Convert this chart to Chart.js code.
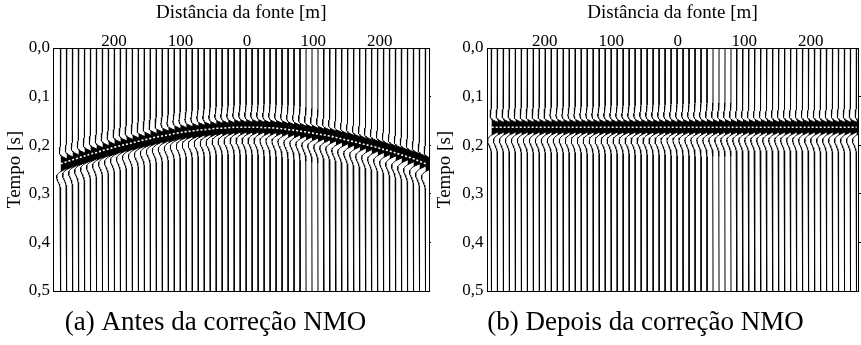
<!DOCTYPE html>
<html><head><meta charset="utf-8">
<script src="https://cdn.jsdelivr.net/npm/chart.js@4.4.1/dist/chart.umd.min.js"></script>
<style>
html,body{margin:0;padding:0;background:#fff;}
#wrap{position:relative;width:861px;height:345px;overflow:hidden;background:#fff;}
.panel{position:absolute;top:0;width:431px;height:345px;}
#pa{left:0;}
#pb{left:430px;}
</style></head><body>
<div id="wrap">
<div class="panel" id="pa"><canvas id="ca" width="431" height="345"></canvas></div>
<div class="panel" id="pb"><canvas id="cb" width="431" height="345"></canvas></div>
</div>
<script>
// ---- data ----
const offsets = [-280,-271,-262,-253,-244,-235,-226,-217,-208,-199,-190,-181,-172,-163,-154,-145,-136,-127,-118,-109,-100,-91,-82,-73,-64,-55,-46,-37,-28,-19,-10,-1,8,17,26,35,44,53,62,71,80,89,98,107,116,125,134,143,152,161,170,179,188,197,206,215,224,233,242,251,260,269];
const picksA = [0.238,0.234,0.230,0.226,0.222,0.218,0.215,0.211,0.208,0.204,0.201,0.198,0.195,0.192,0.189,0.186,0.183,0.181,0.179,0.176,0.174,0.172,0.171,0.169,0.168,0.167,0.165,0.165,0.164,0.163,0.163,0.163,0.163,0.163,0.164,0.164,0.165,0.166,0.168,0.169,0.171,0.173,0.175,0.177,0.179,0.181,0.184,0.187,0.190,0.193,0.196,0.199,0.202,0.205,0.209,0.212,0.216,0.220,0.224,0.228,0.233,0.238];
const picksB = [0.163,0.163,0.163,0.163,0.163,0.163,0.163,0.163,0.163,0.163,0.163,0.163,0.163,0.163,0.163,0.163,0.163,0.163,0.163,0.163,0.163,0.163,0.163,0.163,0.163,0.163,0.163,0.163,0.163,0.163,0.163,0.163,0.163,0.163,0.163,0.163,0.163,0.163,0.163,0.163,0.163,0.163,0.163,0.163,0.163,0.163,0.163,0.163,0.163,0.163,0.163,0.163,0.163,0.163,0.163,0.163,0.163,0.163,0.163,0.163,0.163,0.163];
// wavelet samples, 2 ms apart, from -0.050 s to +0.060 s around the event
const wavelet = [-0.005,-0.010,-0.015,-0.022,-0.030,-0.040,-0.050,-0.062,-0.075,-0.090,-0.105,-0.118,-0.125,-0.125,-0.115,-0.090,-0.050,0.006,0.165,0.335,0.505,0.665,0.803,0.910,0.977,1.000,0.977,0.910,0.803,0.665,0.505,0.335,0.165,0.006,-0.110,-0.205,-0.275,-0.320,-0.345,-0.350,-0.340,-0.318,-0.288,-0.253,-0.216,-0.180,-0.146,-0.115,-0.088,-0.066,-0.048,-0.034,-0.023,-0.015,-0.009,-0.005];
const waveletStart = -0.050;
const waveletStep = 0.002;
const lobeFirst = 16, lobeLast = 34;   // sample range of the filled positive lobe
const traceGain = 18;          // metres of deflection for unit amplitude
const timeRange = [0, 0.5];
const xTickValues = [-200, -100, 0, 100, 200];
const yTickValues = [0, 0.1, 0.2, 0.3, 0.4, 0.5];
const xTitle = 'Distância da fonte [m]';
const yTitle = 'Tempo [s]';
const captions = ['(a) Antes da correção NMO', '(b) Depois da correção NMO'];

// ---- build datasets ----
function buildDatasets(picks) {
  const ds = [];
  ds.push({
    data: offsets.map((x, i) => ({x: x, y: picks[i]})),
    borderColor: '#ffffff', borderWidth: 1.6, borderDash: [2, 2],
    fill: false, pointRadius: 0, order: 0
  });
  offsets.forEach((x0, i) => {
    const tp = picks[i];
    const line = [{x: x0, y: timeRange[0]}];
    const lobe = [];
    wavelet.forEach((a, k) => {
      const t = tp + waveletStart + k * waveletStep;
      line.push({x: x0 + traceGain * a, y: t});
      if (k >= lobeFirst && k <= lobeLast) lobe.push({x: x0 + traceGain * Math.max(0, a), y: t});
    });
    line.push({x: x0, y: timeRange[1]});
    ds.push({data: lobe, fill: 'shape', backgroundColor: '#000', borderWidth: 0,
             borderColor: 'rgba(0,0,0,0)', pointRadius: 0, order: 1});
    ds.push({data: line, fill: false, borderColor: '#000', borderWidth: 1,
             pointRadius: 0, order: 2});
  });
  return ds;
}

const FONT = 'Liberation Serif, Times New Roman, serif';

function makeChart(canvasId, picks, caption, xMin, xMax, leftW, rightW) {
  const ctx = document.getElementById(canvasId);
  return new Chart(ctx, {
    type: 'line',
    data: {datasets: buildDatasets(picks)},
    options: {
      responsive: false, animation: false, devicePixelRatio: 1, events: [],
      layout: {padding: 0, autoPadding: false},
      elements: {line: {tension: 0}, point: {radius: 0}},
      plugins: {
        legend: {display: false},
        tooltip: {enabled: false},
        title: {
          display: true, position: 'bottom', text: caption, color: '#000',
          font: {family: FONT, size: 27, weight: 'normal', lineHeight: 1.1},
          padding: {top: 17.15, bottom: 7.15}
        }
      },
      scales: {
        x: {
          type: 'linear', position: 'top', min: xMin, max: xMax,
          afterBuildTicks: s => { s.ticks = xTickValues.map(v => ({value: v})); },
          afterFit: s => { s.height = 48; },
          ticks: {callback: v => String(Math.abs(v)), color: '#000', padding: -4,
                  maxRotation: 0, autoSkip: false, font: {family: FONT, size: 17}},
          grid: {display: false, drawTicks: false},
          border: {display: true, color: '#000', width: 1},
          title: {display: true, text: xTitle, color: '#000', padding: {top: 1.4, bottom: 0},
                  font: {family: FONT, size: 19}}
        },
        x2: {
          type: 'linear', position: 'bottom', min: xMin, max: xMax,
          afterFit: s => { s.height = 0; },
          ticks: {display: false},
          grid: {display: false, drawTicks: false},
          border: {display: true, color: '#000', width: 1}
        },
        y: {
          type: 'linear', position: 'left', reverse: true, min: timeRange[0], max: timeRange[1],
          afterBuildTicks: s => { s.ticks = yTickValues.map(v => ({value: v})); },
          afterFit: s => { s.width = leftW; },
          ticks: {callback: v => Number(v).toFixed(1).replace('.', ','), color: '#000', padding: 3.5,
                  autoSkip: false, font: {family: FONT, size: 17}},
          grid: {display: false, drawTicks: false},
          border: {display: true, color: '#000', width: 1},
          title: {display: true, text: yTitle, color: '#000', padding: {top: 4.1, bottom: 0},
                  font: {family: FONT, size: 19}}
        },
        y2: {
          type: 'linear', position: 'right', reverse: true, min: timeRange[0], max: timeRange[1],
          afterBuildTicks: s => { s.ticks = yTickValues.slice(1, 5).map(v => ({value: v})); },
          afterFit: s => { s.width = rightW; },
          ticks: {display: false},
          grid: {display: true, drawOnChartArea: false, drawTicks: true, tickLength: 3, color: '#000'},
          border: {display: true, color: '#000', width: 1}
        }
      }
    }
  });
}

makeChart('ca', picksA, captions[0], -291, 274, 53.5, 2);
makeChart('cb', picksB, captions[1], -287, 271, 57, 3);
</script>
</body></html>
